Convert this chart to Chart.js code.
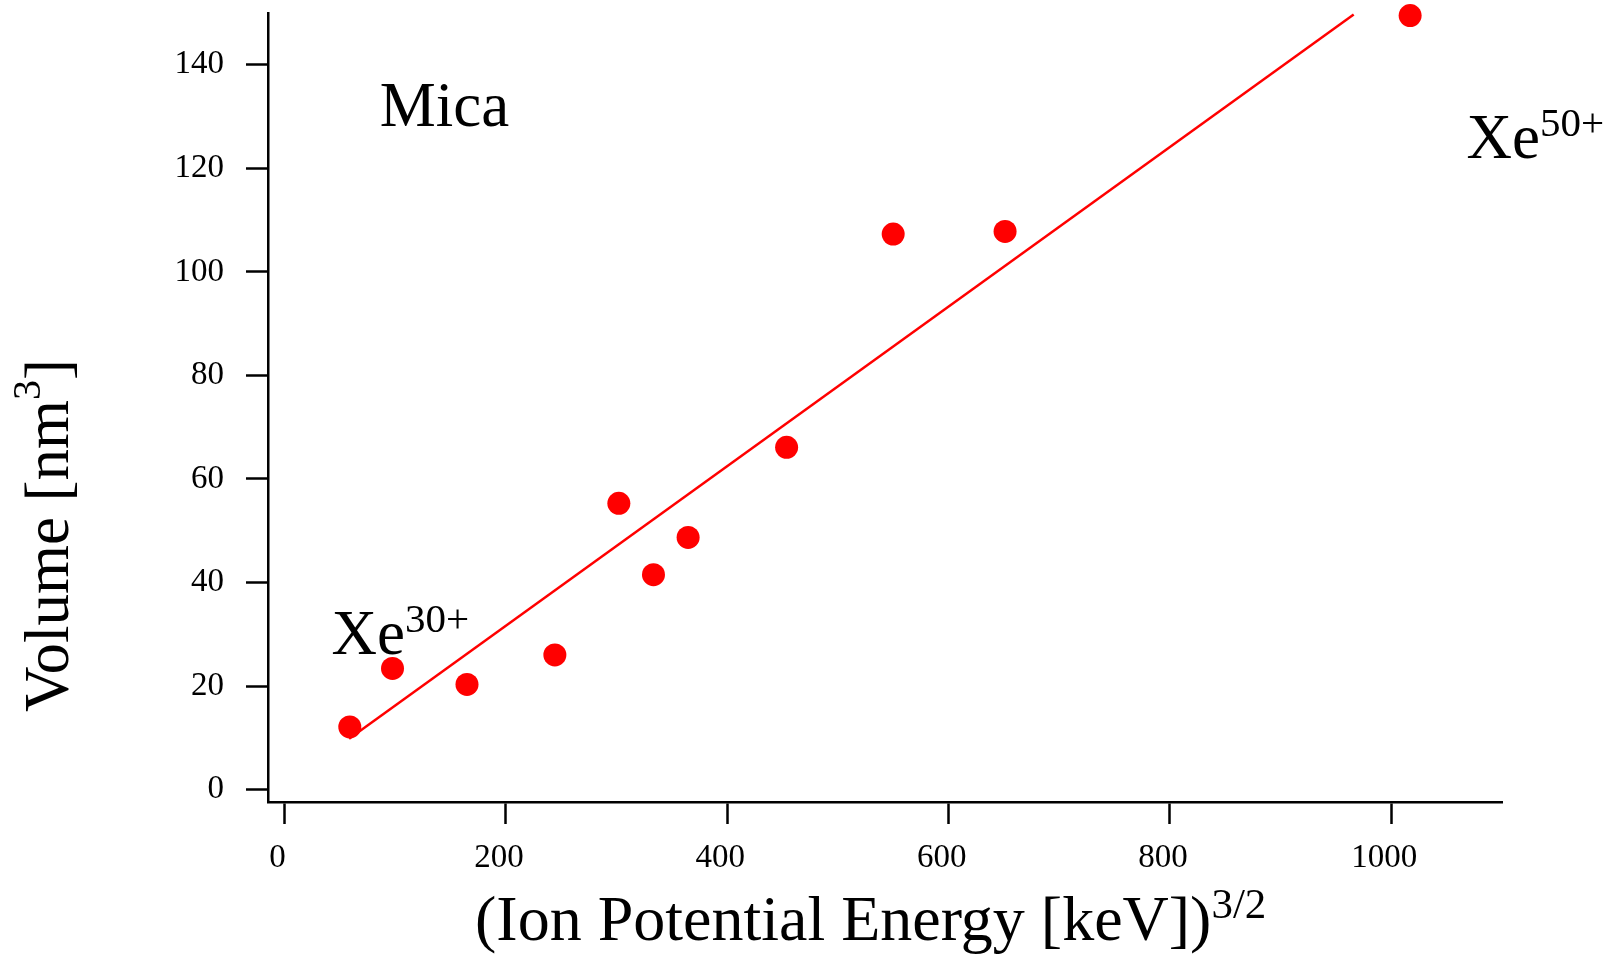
<!DOCTYPE html>
<html>
<head>
<meta charset="utf-8">
<script src="https://cdn.jsdelivr.net/npm/chart.js@4"></script>
<style>
  body { margin: 0; background: #fff; }
  #wrap { width: 1612px; height: 954px; }
</style>
</head>
<body>
<div id="wrap"><canvas id="micaChart"></canvas></div>
<script>
/* Mica: crater volume vs (ion potential energy)^3/2 */

const energy = [58.9, 97.5, 164.8, 244.2, 302, 333.3, 364.6, 453.6, 549.9, 651, 1017];
const volume = [12.1, 23.4, 20.3, 26.0, 55.3, 41.5, 48.7, 66.1, 107.3, 107.8, 149.5];

// linear fit drawn in the figure
const fitEnergy = [58.3, 966];
const fitVolume = [9.8, 149.7];

const xTicks = [0, 200, 400, 600, 800, 1000];
const yTicks = [0, 20, 40, 60, 80, 100, 120, 140];

const serif = '"Liberation Serif", "Times New Roman", serif';

// draws a run of text pieces, some raised as superscripts
function drawRun(ctx, parts, px, py) {
  let cx = px;
  parts.forEach(p => {
    ctx.font = p.size + 'px ' + serif;
    ctx.fillText(p.t, cx, py - (p.rise || 0));
    cx += ctx.measureText(p.t).width;
  });
}

const textPlugin = {
  id: 'figText',
  afterDraw(chart) {
    const ctx = chart.ctx;
    const x = chart.scales.x, y = chart.scales.y;
    ctx.save();
    ctx.fillStyle = '#000';
    ctx.textAlign = 'left';
    ctx.textBaseline = 'alphabetic';

    drawRun(ctx, [{t: 'Mica', size: 63}], x.getPixelForValue(86), y.getPixelForValue(128.1));
    drawRun(ctx, [{t: 'Xe', size: 63}, {t: '30+', size: 41, rise: 22}],
      x.getPixelForValue(42.4), y.getPixelForValue(26.2));
    drawRun(ctx, [{t: 'Xe', size: 63}, {t: '50+', size: 41, rise: 22}],
      x.getPixelForValue(1068), y.getPixelForValue(122));

    // axis titles
    drawRun(ctx, [{t: '(Ion Potential Energy [keV])', size: 64}, {t: '3/2', size: 43, rise: 22}], 475, 940);

    ctx.translate(68, 712);
    ctx.rotate(-Math.PI / 2);
    drawRun(ctx, [{t: 'Volume [nm', size: 63}, {t: '3', size: 40, rise: 28}, {t: ']', size: 63}], 0, 0);
    ctx.restore();
  }
};

const axisStyle = {
  border: { display: true, color: '#000', width: 2.5 },
  grid: {
    display: true,
    drawOnChartArea: false,
    drawTicks: true,
    tickLength: 22,
    tickWidth: 2.5,
    tickColor: '#000'
  }
};

new Chart(document.getElementById('micaChart'), {
  type: 'scatter',
  data: {
    datasets: [
      {
        label: 'fit',
        type: 'line',
        data: fitEnergy.map((e, i) => ({x: e, y: fitVolume[i]})),
        borderColor: '#ff0000',
        borderWidth: 2.5,
        pointRadius: 0,
        fill: false,
        clip: false
      },
      {
        label: 'Mica',
        data: energy.map((e, i) => ({x: e, y: volume[i]})),
        backgroundColor: '#ff0000',
        borderWidth: 0,
        pointRadius: 11.5,
        clip: false
      }
    ]
  },
  options: {
    responsive: true,
    maintainAspectRatio: false,
    animation: false,
    layout: {
      autoPadding: false,
      padding: { left: 0, top: 13, right: 110, bottom: 0 }
    },
    plugins: {
      legend: { display: false },
      tooltip: { enabled: false }
    },
    scales: {
      x: {
        type: 'linear',
        min: -15,
        max: 1100,
        ...axisStyle,
        afterBuildTicks: s => { s.ticks = xTicks.map(v => ({value: v})); },
        afterFit: s => { s.height = 152; s.paddingLeft = 0; s.paddingRight = 0; },
        ticks: {
          color: '#000',
          font: { family: serif, size: 33 },
          padding: 15,
          labelOffset: -7,
          maxRotation: 0,
          callback: v => String(v)
        }
      },
      y: {
        type: 'linear',
        min: -2.4,
        max: 150,
        ...axisStyle,
        afterBuildTicks: s => { s.ticks = yTicks.map(v => ({value: v})); },
        afterFit: s => { s.width = 268; s.paddingTop = 0; s.paddingBottom = 0; },
        ticks: {
          color: '#000',
          font: { family: serif, size: 33 },
          padding: 22,
          callback: v => String(v)
        }
      }
    }
  },
  plugins: [textPlugin]
});
</script>
</body>
</html>
